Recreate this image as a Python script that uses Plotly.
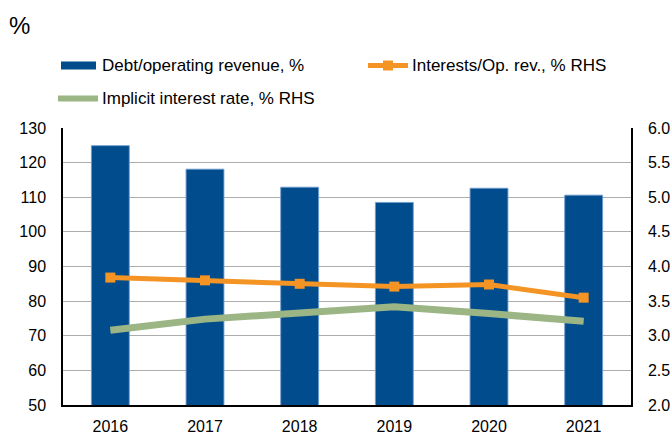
import plotly.graph_objects as go

years = ["2016", "2017", "2018", "2019", "2020", "2021"]
debt_to_revenue = [124.9, 118.1, 112.9, 108.5, 112.6, 110.6]
interest_to_revenue = [3.84, 3.80, 3.75, 3.71, 3.74, 3.55]
implicit_rate = [3.08, 3.24, 3.33, 3.42, 3.32, 3.21]

names = ["Debt/operating revenue, %", "Interests/Op. rev., % RHS", "Implicit interest rate, % RHS"]

BLUE = "#004C8C"
ORANGE = "#F39424"
GREEN = "#9BB585"
FONT = "Liberation Sans, Arial, sans-serif"

W, H = 672, 439
L, R, T, B = 63, 41, 128, 34
PW, PH = W - L - R, H - T - B


def px(x):
    return (x - L) / PW


def py(y):
    return (H - B - y) / PH


fig = go.Figure()
fig.add_trace(go.Bar(
    x=years, y=debt_to_revenue, name=names[0], width=0.4,
    marker=dict(color=BLUE, line=dict(color="rgba(110,155,205,0.9)", width=1)),
    yaxis="y", showlegend=False,
))
fig.add_trace(go.Scatter(
    x=years, y=implicit_rate, name=names[2], mode="lines",
    line=dict(color=GREEN, width=7), yaxis="y2", showlegend=False,
))
fig.add_trace(go.Scatter(
    x=years, y=interest_to_revenue, name=names[1], mode="lines+markers",
    line=dict(color=ORANGE, width=5),
    marker=dict(symbol="square", size=10, color=ORANGE),
    yaxis="y2", showlegend=False,
))

# hand-built legend
shapes = [
    dict(type="rect", xref="paper", yref="paper", x0=px(61), x1=px(96), y0=py(69.5), y1=py(61.5),
         fillcolor=BLUE, line=dict(width=0)),
    dict(type="line", xref="paper", yref="paper", x0=px(368), x1=px(408), y0=py(65.5), y1=py(65.5),
         line=dict(color=ORANGE, width=5)),
    dict(type="rect", xref="paper", yref="paper", x0=px(383), x1=px(393), y0=py(70.5), y1=py(60.5),
         fillcolor=ORANGE, line=dict(width=0)),
    dict(type="line", xref="paper", yref="paper", x0=px(58), x1=px(98), y0=py(98.5), y1=py(98.5),
         line=dict(color=GREEN, width=6)),
]
annotations = [
    dict(text=names[0], x=px(100), y=py(65.5), xanchor="left", yanchor="middle"),
    dict(text=names[1], x=px(410), y=py(65.5), xanchor="left", yanchor="middle"),
    dict(text=names[2], x=px(100), y=py(98.5), xanchor="left", yanchor="middle"),
    dict(text="%", x=px(7), y=py(25), xanchor="left", yanchor="middle", font=dict(size=24)),
]
for a in annotations:
    a.update(xref="paper", yref="paper", showarrow=False)
    a.setdefault("font", dict(size=17))
    a["font"] = dict(family=FONT, color="#000000", size=a["font"]["size"])

fig.update_layout(
    width=W, height=H,
    margin=dict(l=L, r=R, t=T, b=B, autoexpand=False),
    paper_bgcolor="white", plot_bgcolor="white",
    font=dict(family=FONT, size=16, color="#000000"),
    xaxis=dict(type="category", showline=True, linecolor="#000000", linewidth=1.5,
               ticks="", showgrid=False, ticklabelstandoff=6),
    yaxis=dict(range=[50, 130], dtick=10, showline=True, linecolor="#000000", linewidth=1.5,
               showgrid=True, gridcolor="#ADADAD", gridwidth=1.3, ticks="",
               ticklabelstandoff=12, zeroline=False),
    yaxis2=dict(range=[2, 6], dtick=0.5, tickformat=".1f", overlaying="y", side="right",
                showline=True, linecolor="#000000", linewidth=1.5, showgrid=False,
                ticks="", ticklabelstandoff=12, zeroline=False),
    shapes=shapes, annotations=annotations,
)

fig.write_html("out.html")
